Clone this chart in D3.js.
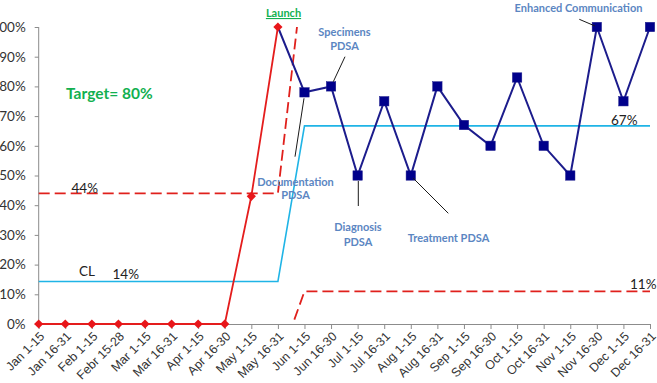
<!DOCTYPE html>
<html><head><meta charset="utf-8">
<script src="https://cdn.jsdelivr.net/npm/d3@7"></script>
<style>
html,body{margin:0;padding:0;background:#fff;}
svg{display:block;font-family:Lato,"Open Sans",sans-serif;}
</style></head>
<body>
<svg id="chart" width="657" height="383"></svg>
<script>
const categories = ["Jan 1-15","Jan 16-31","Feb 1-15","Febr 15-28","Mar 1-15","Mar 16-31","Apr 1-15","Apr 16-30","May 1-15","May 16-31","Jun 1-15","Jun 16-30","Jul 1-15","Jul 16-31","Aug 1-15","Aug 16-31","Sep 1-15","Sep 16-30","Oct 1-15","Oct 16-31","Nov 1-15","Nov 16-30","Dec 1-15","Dec 16-31"];
const preValues  = [0,0,0,0,0,0,0,0,43,100,null,null,null,null,null,null,null,null,null,null,null,null,null,null];
const postValues = [null,null,null,null,null,null,null,null,null,100,78,80,50,75,50,80,67,60,83,60,50,100,75,100];
const clValues   = [14.3,14.3,14.3,14.3,14.3,14.3,14.3,14.3,14.3,14.3,66.7,66.7,66.7,66.7,66.7,66.7,66.7,66.7,66.7,66.7,66.7,66.7,66.7,66.7];
const uclValues  = [44,44,44,44,44,44,44,44,44,44,122,122,122,122,122,122,122,122,122,122,122,122,122,122];
const lclValues  = [-14,-14,-14,-14,-14,-14,-14,-14,-14,-14,11,11,11,11,11,11,11,11,11,11,11,11,11,11];
const yTicks = [0,10,20,30,40,50,60,70,80,90,100];

const svg = d3.select("#chart");
const x = d3.scalePoint().domain(categories).range([38.7, 650]).padding(0);
const y = d3.scaleLinear().domain([0,100]).range([324, 27]);

svg.append("defs").append("clipPath").attr("id","plotclip")
  .append("rect").attr("x",38).attr("y",27).attr("width",620).attr("height",297);

// axes
const yAxis = svg.append("g").attr("transform","translate(38.7,0)")
  .call(d3.axisLeft(y).tickValues(yTicks).tickFormat(d=>d+"%").tickSize(4).tickPadding(9));
yAxis.select(".domain").attr("stroke","#8c8c8c").attr("d","M0,27V324");
yAxis.selectAll(".tick line").attr("stroke","#8c8c8c");
yAxis.selectAll("text").attr("font-size","13.5px").attr("fill","#333").attr("font-family","Lato,sans-serif");

const xAxis = svg.append("g").attr("transform","translate(0,324)")
  .call(d3.axisBottom(x).tickSize(5).tickSizeOuter(0));
xAxis.select(".domain").attr("stroke","#8c8c8c");
xAxis.selectAll(".tick line").attr("stroke","#8c8c8c");
xAxis.selectAll("text").attr("font-size","12.5px").attr("fill","#333")
  .attr("text-anchor","end").attr("dy","0.35em").attr("y",0)
  .attr("transform","translate(3,10) rotate(-45)");

const line = d3.line().defined(d=>d.v!==null).x(d=>x(d.c)).y(d=>y(d.v));
const toPts = arr => arr.map((v,i)=>({c:categories[i],v:v}));

const g = svg.append("g");
// CL
g.append("path").attr("d",line(toPts(clValues))).attr("fill","none").attr("stroke","#1fb4e6").attr("stroke-width",1.6).attr("clip-path","url(#plotclip)");
// UCL / LCL
[uclValues,lclValues].forEach(arr=>{
  g.append("path").attr("d",line(toPts(arr))).attr("fill","none").attr("stroke","#e0201c")
   .attr("stroke-width",1.8).attr("stroke-dasharray","11,5").attr("clip-path","url(#plotclip)");
});
// post line
g.append("path").attr("d",line(toPts(postValues))).attr("fill","none").attr("stroke","#1c1c8c").attr("stroke-width",2);
// pre line
g.append("path").attr("d",line(toPts(preValues))).attr("fill","none").attr("stroke","#e41d1d").attr("stroke-width",1.8);

// post markers (skip bridging point shared with pre)
g.selectAll(".sq").data(toPts(postValues).filter((d,i)=>d.v!==null && preValues[i]===null))
  .enter().append("rect").attr("x",d=>x(d.c)-4.7).attr("y",d=>y(d.v)-4.7).attr("width",9.4).attr("height",9.4)
  .attr("fill","#00008b").attr("stroke","#1c1c8c").attr("stroke-width",0.5);
// pre markers
g.selectAll(".dm").data(toPts(preValues).filter(d=>d.v!==null))
  .enter().append("path").attr("transform",d=>`translate(${x(d.c)},${y(d.v)})`)
  .attr("d","M0,-4.6L4.6,0L0,4.6L-4.6,0Z").attr("fill","#e8161a");

// text labels
function txt(t,xp,yp,opt){
  const e = svg.append("text").attr("x",xp).attr("y",yp).text(t)
    .attr("font-size",opt.size||"12px").attr("fill",opt.fill||"#222")
    .attr("font-weight",opt.bold?"bold":"normal").attr("text-anchor",opt.anchor||"start");
  if(opt.underline) e.attr("text-decoration","underline");
  return e;
}
txt("44%",71.5,192.5,{size:"13.5px"});
txt("CL",79,275.5,{size:"13.5px"});
txt("14%",112.5,279,{size:"13.5px"});
txt("67%",611,125,{size:"13.5px"});
txt("11%",630,289,{size:"13.5px"});

txt("Target= 80%",66,99,{size:"15.5px",bold:true,fill:"#12b050"});
txt("Launch",283.5,17,{size:"11px",bold:true,fill:"#12b050",anchor:"middle",underline:true});

const ac = "#5b86c2";
const as = "11px";
txt("Specimens",344.5,36,{size:as,bold:true,fill:ac,anchor:"middle"});
txt("PDSA",344.5,50,{size:as,bold:true,fill:ac,anchor:"middle"});
txt("Enhanced Communication",578.5,11.5,{size:as,bold:true,fill:ac,anchor:"middle"});
txt("Documentation",295.5,185.5,{size:as,bold:true,fill:ac,anchor:"middle"});
txt("PDSA",295.5,199,{size:as,bold:true,fill:ac,anchor:"middle"});
txt("Diagnosis",358,231,{size:as,bold:true,fill:ac,anchor:"middle"});
txt("PDSA",358,245.5,{size:as,bold:true,fill:ac,anchor:"middle"});
txt("Treatment PDSA",448.5,241.5,{size:as,bold:true,fill:ac,anchor:"middle"});

// leader lines
const leaders = [
  [345,56.7,333.3,81.7],
  [579.3,19.3,595,26],
  [295,156.7,304,98.3],
  [358.3,181,358.3,206],
  [413,178,448.3,213.3]
];
svg.selectAll(".ld").data(leaders).enter().append("line")
  .attr("x1",d=>d[0]).attr("y1",d=>d[1]).attr("x2",d=>d[2]).attr("y2",d=>d[3])
  .attr("stroke","#1a1a1a").attr("stroke-width",1);
</script>
</body></html>
